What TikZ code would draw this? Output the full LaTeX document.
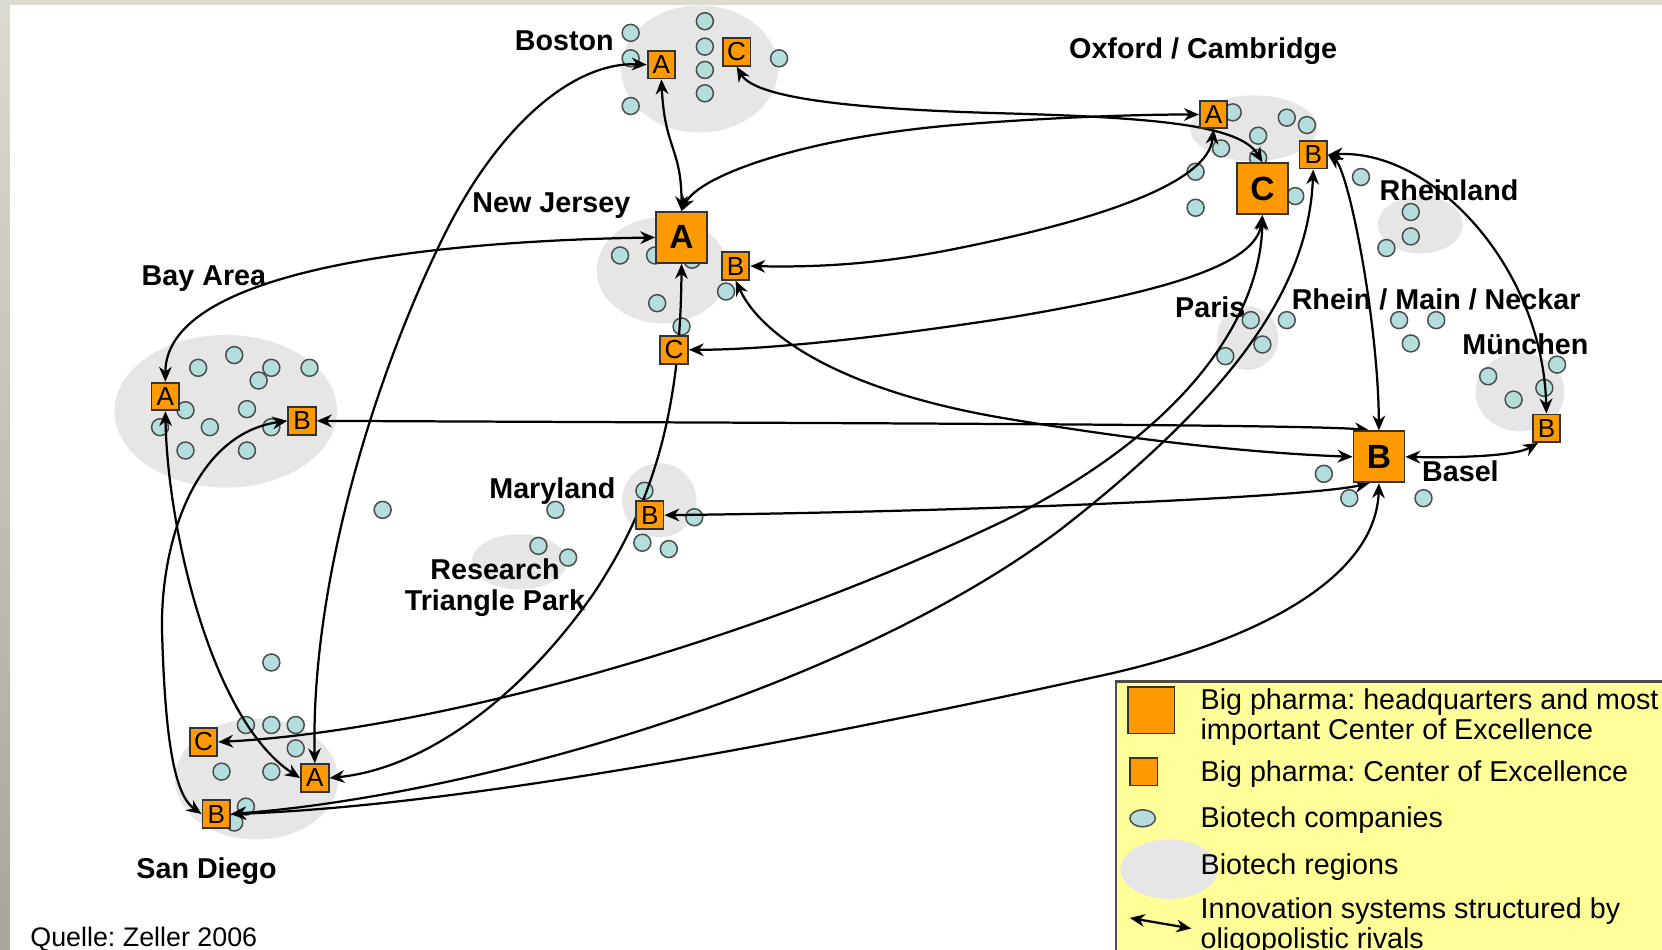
\documentclass[tikz,border=0pt]{standalone}
\usepackage{fontspec}
\setmainfont{Liberation Sans}
\usepackage{xcolor}
\usepackage{tikz}
\usetikzlibrary{arrows.meta}

\pgfdeclarelayer{back}
\pgfsetlayers{back,main}

\definecolor{pharma}{RGB}{255,153,0}
\definecolor{biotechblue}{RGB}{180,222,220}
\definecolor{regiongray}{RGB}{230,230,230}
\definecolor{legendyellow}{RGB}{255,255,153}

\frenchspacing
\newcommand{\placefont}{\fontsize{7.7}{8.5}\selectfont\bfseries}
\newcommand{\keyfont}{\fontsize{7.7}{7.1}\selectfont}

\tikzset{
  hqbox/.style={draw=black!80, line width=0.5pt, fill=pharma, minimum size=0.48cm, inner sep=0pt, font=\fontsize{9}{10}\selectfont\bfseries},
  coebox/.style={draw=black!80, line width=0.5pt, fill=pharma, minimum size=0.26cm, inner sep=0pt, font=\fontsize{7}{8}\selectfont},
  biotech/.style={draw=black!70, line width=0.4pt, fill=biotechblue},
  region/.style={fill=regiongray},
  rival/.style={<->, >={Stealth[length=4pt,width=3.4pt]}, line width=0.6pt},
  place/.style={font=\placefont, inner sep=0pt, anchor=base west},
  keytext/.style={font=\keyfont, inner sep=0pt, anchor=base west}
}

\begin{document}
\begin{tikzpicture}[x=0.01cm, y=-0.01cm]

    \useasboundingbox (0,0) rectangle (1568,896);

    % Big pharma sites
    \node[coebox] (bosA) at (624,61) {A};
    \node[coebox] (bosC) at (695,49) {C};
    \node[coebox] (oxA) at (1145,108) {A};
    \node[coebox] (oxB) at (1239,146) {B};
    \node[hqbox] (oxC) at (1191,178) {C};
    \node[hqbox] (njA) at (643,224) {A};
    \node[coebox] (njB) at (694,251) {B};
    \node[coebox] (njC) at (636,330) {C};
    \node[coebox] (bayA) at (156,374) {A};
    \node[coebox] (bayB) at (285,397) {B};
    \node[coebox] (mdB) at (613,486) {B};
    \node[hqbox] (basB) at (1301,431) {B};
    \node[coebox] (muB) at (1459,404) {B};
    \node[coebox] (sdC) at (192,700) {C};
    \node[coebox] (sdA) at (297,734) {A};
    \node[coebox] (sdB) at (204,768) {B};

    % Region names
    \node[place] (boston) at (485,48) {Boston};
    \node[place] (oxford) at (1008,55) {Oxford / Cambridge};
    \node[place] (newjersey) at (445,200) {New Jersey};
    \node[place] (bayarea) at (133,269) {Bay Area};
    \node[place] (rheinland) at (1301,189) {Rheinland};
    \node[place] (paris) at (1108,300) {Paris};
    \node[place] (rheinmain) at (1218,292) {Rhein / Main / Neckar};
    \node[place] (muenchen) at (1379,334) {München};
    \node[place] (basel) at (1341,454) {Basel};
    \node[place] (maryland) at (461,470) {Maryland};
    \node[place, anchor=north, align=center] (rtp) at (467,526) {Research\\Triangle Park};
    \node[place] (sandiego) at (128,829) {San Diego};
    \node[font=\fontsize{7.2}{8}\selectfont, inner sep=0pt, anchor=base west] (source) at (28,893) {Quelle: Zeller 2006};

    % Legend
    \node[hqbox, minimum size=0.44cm] (keyhq) at (1086,670) {};
    \node[coebox] (keycoe) at (1079,728) {};
    \draw[biotech] (1078,772) ellipse (12 and 8);
    \fill[region] (1103,820) ellipse (46 and 28);
    \coordinate (keyleft) at (1066,866);
    \coordinate (keyright) at (1124,876);
    \draw[rival] (keyleft) -- (keyright);
    \node[keytext, anchor=north west, align=left] (keyhqtext) at (1132,649) {Big pharma: headquarters and most\\important Center of Excellence};
    \node[keytext] (keycoetext) at (1132,737) {Big pharma: Center of Excellence};
    \node[keytext] (keybiotext) at (1132,781) {Biotech companies};
    \node[keytext] (keyregtext) at (1132,825) {Biotech regions};
    \node[keytext, anchor=north west, align=left] (keyrivtext) at (1132,846) {Innovation systems structured by\\oligopolistic rivals};

    \begin{pgfonlayer}{back}
    % Frame and legend box
    \shade[top color={rgb,255:red,221;green,218;blue,208}, bottom color={rgb,255:red,168;green,166;blue,156}] (0,0) rectangle (1568,896);
    \fill[white] (9.4,4.7) rectangle (1568,896);
    \draw[fill=legendyellow, draw=black!70, line width=0.6pt] (1053,643) rectangle (1572,900);

    % Biotech regions
    \fill[region] (660,65) ellipse (74 and 60);
    \fill[region] (1183,121) ellipse (60 and 31);
    \fill[region] (625,255) ellipse (62 and 50);
    \fill[region] (213,388) ellipse (105 and 72);
    \fill[region] (1340,212) ellipse (40 and 27);
    \fill[region] (1177,319) ellipse (29 and 30);
    \fill[region] (1434,370) ellipse (42 and 37);
    \fill[region] (622,472) ellipse (35 and 35);
    \fill[region] (490,530) ellipse (45 and 26);
    \fill[region] (242,735) ellipse (77 and 57);

    % Biotech companies
    \foreach \x/\y in {595/31, 595/55, 595/100, 665/20, 665/44, 665/66, 665/88, 735/55,
        1163/106, 1214/111, 1233/118, 1187/128, 1152/140, 1128/162, 1128/196, 1222/185, 1187/149,
        585/241, 618/241, 653/245, 620/286, 685/275, 643/308,
        187/347, 221/335, 256/347, 244/359, 292/347, 175/387, 233/386, 151/403, 198/403, 256/403, 175/425, 233/425,
        1284/167, 1331/200, 1331/223, 1308/234,
        1180/302, 1214/302, 1191/325, 1156/336,
        1320/302, 1355/302, 1331/324,
        1404/355, 1428/377, 1469/344, 1457/366,
        1249/447, 1273/470, 1343/470,
        608/463, 655/488, 606/512, 631/518,
        361/481, 256/625, 524/481, 508/515, 536/526,
        232/684, 256/684, 279/684, 279/706, 209/728, 256/728, 232/761, 221/776}
        \draw[biotech] (\x,\y) circle (8);

    % Rivals: A
    \draw[rival] (bosA.south) .. controls (627,140) and (643,140) .. (njA.north);
    \draw[rival] (bosA.west) .. controls (540,58) and (470,120) .. (420,220) .. controls (360,340) and (293,540) .. (sdA.north);
    \draw[rival] (njA.north) .. controls (660,165) and (760,130) .. (900,118) .. controls (1000,110) and (1080,108) .. (oxA.west);
    \draw[rival] (njA.west) .. controls (380,228) and (156,260) .. (bayA.north);
    \draw[rival] (njA.south) .. controls (642,380) and (620,470) .. (560,560) .. controls (490,660) and (400,725) .. (sdA.east);
    \draw[rival] (bayA.south) .. controls (158,500) and (200,680) .. (sdA.west);
    \draw[rival] (oxA.south) .. controls (1140,170) and (1050,205) .. (900,235) .. controls (820,251) and (760,252) .. (njB.east);

    % Rivals: B
    \draw[rival] (njB.south) .. controls (720,320) and (800,370) .. (950,395) .. controls (1100,420) and (1200,428) .. (basB.west);
    \draw[rival] (bayB.east) .. controls (700,399) and (1240,400) .. (basB.110);
    \draw[rival] (bayB.west) .. controls (180,410) and (150,520) .. (153,600) .. controls (156,700) and (165,750) .. (sdB.west);
    \draw[rival] (mdB.east) .. controls (900,483) and (1230,470) .. (basB.250);
    \draw[rival] (oxB.east) .. controls (1272,160) and (1300,300) .. (basB.north);
    \draw[rival] (oxB.east) .. controls (1350,140) and (1455,250) .. (muB.north);
    \draw[rival] (basB.east) .. controls (1380,432) and (1430,430) .. (muB.240);
    \draw[rival] (oxB.south) .. controls (1235,260) and (1180,360) .. (1000,500) .. controls (800,650) and (450,750) .. (sdB.east);
    \draw[rival] (basB.south) .. controls (1298,540) and (1200,600) .. (1050,635) .. controls (800,690) and (450,760) .. (sdB.east);

    % Rivals: C
    \draw[rival] (bosC.south) .. controls (712,92) and (800,103) .. (950,107) .. controls (1090,111) and (1170,118) .. (oxC.north);
    \draw[rival] (oxC.south) .. controls (1185,250) and (1100,275) .. (950,300) .. controls (820,320) and (720,330) .. (njC.east);
    \draw[rival] (oxC.south) .. controls (1190,290) and (1130,400) .. (950,490) .. controls (700,610) and (400,690) .. (sdC.east);
    \end{pgfonlayer}

\end{tikzpicture}
\end{document}
